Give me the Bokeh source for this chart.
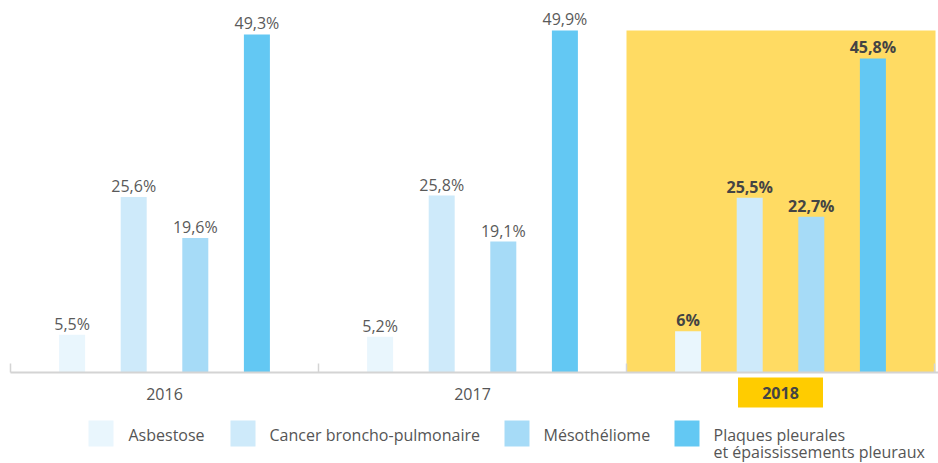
from bokeh.plotting import figure
from bokeh.models import Range1d
from bokeh.core.properties import value
from bokeh.embed import file_html
from bokeh.resources import INLINE

# ---- data ----
years = ["2016", "2017", "2018"]
categories = ["Asbestose", "Cancer broncho-pulmonaire", "Mésothéliome",
              "Plaques pleurales", "et épaississements pleuraux"]
asbestose = [5.5, 5.2, 6.0]
cancer = [25.6, 25.8, 25.5]
meso = [19.6, 19.1, 22.7]
plaques = [49.3, 49.9, 45.8]
labels_asb = ["5,5%", "5,2%", "6%"]
labels_can = ["25,6%", "25,8%", "25,5%"]
labels_mes = ["19,6%", "19,1%", "22,7%"]
labels_pla = ["49,3%", "49,9%", "45,8%"]
highlight_year = "2018"

colors = ["#E9F6FD", "#CEEAFA", "#A6DBF7", "#63C8F3"]
offsets = [-0.3, -0.1, 0.1, 0.3]
series = [asbestose, cancer, meso, plaques]
series_labels = [labels_asb, labels_can, labels_mes, labels_pla]

W, H = 938, 463
GROUP_PX = 308.0
K = 6.856  # px per percent
BASE = 372  # baseline pixel row
x0 = -0.5 - 10 / GROUP_PX
x1 = x0 + W / GROUP_PX
ytop = BASE / K
ybot = ytop - H / K

def px_x(page_x):
    return x0 + page_x / GROUP_PX

def px_y(page_y):
    return ytop - page_y / K

p = figure(width=W, height=H, output_backend="svg", toolbar_location=None,
           x_range=Range1d(x0, x1), y_range=Range1d(ybot, ytop),
           min_border=0, min_border_left=0, min_border_right=0,
           min_border_top=0, min_border_bottom=0)
p.axis.visible = False
p.grid.visible = False
p.outline_line_color = None
p.background_fill_color = "white"

FONT = value("Open Sans")
hi = years.index(highlight_year)
allmax = max(max(s) for s in series)
LABEL_GAP = 11 / K

# highlight panel
p.quad(left=[hi - 0.5], right=[hi + 0.5 + 1 / GROUP_PX], bottom=[0], top=[allmax],
       fill_color="#FFDB63", line_color=None)

# bars
idx = list(range(len(years)))
for s, lab, col, off in zip(series, series_labels, colors, offsets):
    xs = [i + off for i in idx]
    p.vbar(x=xs, top=s, bottom=0, width=26 / GROUP_PX, fill_color=col, line_color=None)
    for i in idx:
        bold = (years[i] == highlight_year)
        p.text(x=[xs[i]], y=[s[i] + LABEL_GAP], text=[lab[i]], text_align="center",
               text_baseline="middle",
               text_font=FONT, text_font_size="16px",
               text_font_style="bold" if bold else "normal",
               text_color="#444444" if bold else "#5a5a5a")

# axis line and ticks
p.segment(x0=[px_x(10)], y0=[0], x1=[px_x(940)], y1=[0], line_color="#d4d4d4", line_width=2)
bounds = [i - 0.5 for i in idx] + [len(years) - 0.5]
p.segment(x0=bounds, y0=[0] * len(bounds), x1=bounds, y1=[9 / K] * len(bounds),
          line_color="#d4d4d4", line_width=1.5)

# year labels
for i, yr in enumerate(years):
    if yr == highlight_year:
        p.rect(x=[i], y=[px_y(392)], width=85, height=30, width_units="screen",
               height_units="screen", fill_color="#FFCC00", line_color=None)
        p.text(x=[i], y=[px_y(392)], text=[yr], text_align="center", text_baseline="middle",
               text_font=FONT, text_font_size="16px", text_font_style="bold",
               text_color="#444444")
    else:
        p.text(x=[i], y=[px_y(393)], text=[yr], text_align="center", text_baseline="middle",
               text_font=FONT, text_font_size="16px", text_color="#555555")

# legend
sq_x = [100.5, 242.5, 516.5, 686.5]
tx_x = [128, 269, 543, 713]
for j in range(4):
    p.rect(x=[px_x(sq_x[j])], y=[px_y(433)], width=25, height=26, width_units="screen",
           height_units="screen", fill_color=colors[j], line_color=None)
    p.text(x=[px_x(tx_x[j])], y=[px_y(434)], text=[categories[j]], text_align="left",
           text_baseline="middle", text_font=FONT, text_font_size="16px",
           text_color="#555555")
p.text(x=[px_x(tx_x[3])], y=[px_y(451)], text=[categories[4]], text_align="left",
       text_baseline="middle", text_font=FONT, text_font_size="16px", text_color="#555555")

open("out.html", "w").write(file_html(p, INLINE))
